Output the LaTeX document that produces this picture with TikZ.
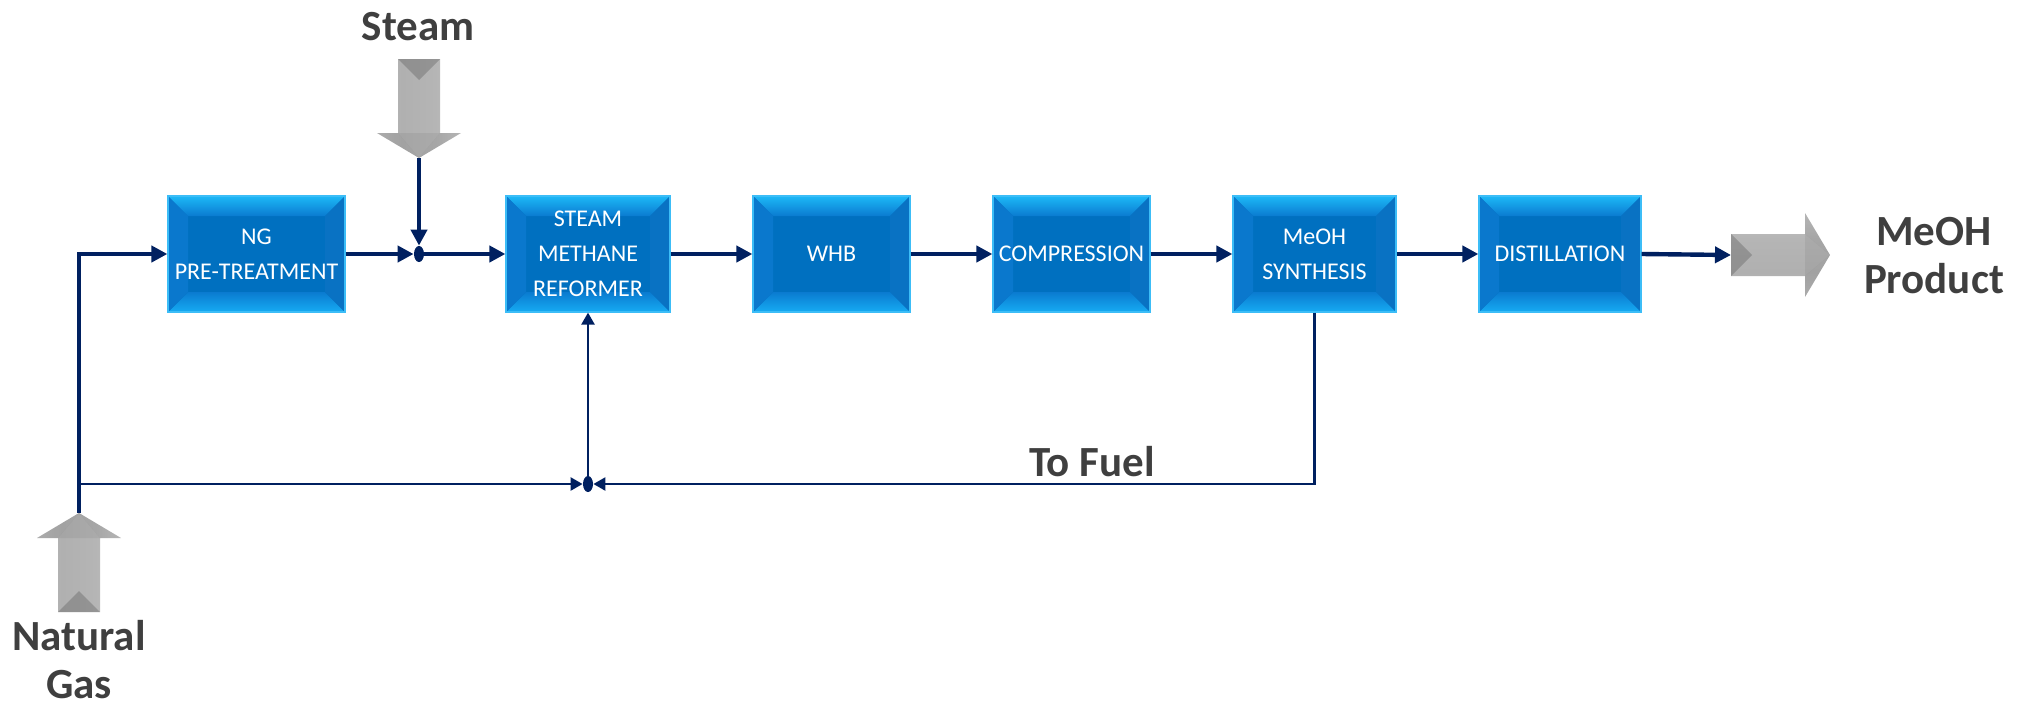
\documentclass[tikz,border=0pt]{standalone}
\usepackage{fontspec}
\setmainfont{Carlito}
\usetikzlibrary{arrows.meta,shapes.geometric,calc}
\definecolor{navy}{HTML}{002060}
\definecolor{lblgray}{HTML}{3F3F3F}
\definecolor{boxc}{HTML}{0070C0}
\definecolor{boxtop}{HTML}{1DB8F7}
\definecolor{boxmidb}{HTML}{0A7BD0}
\definecolor{boxbot}{HTML}{16ABF3}
\definecolor{boxside}{HTML}{0A78CD}
\definecolor{boxline}{HTML}{3CBDF7}
\pgfdeclarehorizontalshading{arrowshade}{100bp}{color(0bp)=(gray!40); color(40bp)=(gray!62); color(60bp)=(gray!58); color(100bp)=(gray!25)}
\newcommand{\grayarrow}[4]{%
  \begin{scope}[shift={(#1,#2)}, rotate=#3]
    \shade[shading=arrowshade, shading angle=#4] (-21,-99) -- (21,-99) -- (21,-25) -- (42,-25) -- (0,0) -- (-42,-25) -- (-21,-25) -- cycle;
    \fill[black, opacity=0.18] (-21,-99) -- (21,-99) -- (0,-78) -- cycle;
    \fill[black, opacity=0.08] (-42,-25) -- (-21,-25) -- (0,0) -- cycle;
    \fill[black, opacity=0.08] (42,-25) -- (21,-25) -- (0,0) -- cycle;
    \fill[black, opacity=0.06] (-21,-25) -- (21,-25) -- (0,0) -- cycle;
  \end{scope}}
\begin{document}
\begin{tikzpicture}[x=0.5pt,y=-0.5pt,
  procbox/.style={minimum height=58pt, inner sep=0pt, text=white,
    font=\fontsize{12}{17.5}\selectfont, align=center, draw=boxline, line width=0.6pt,
    path picture={
      \coordinate (bsw) at (path picture bounding box.south west);
      \coordinate (bne) at (path picture bounding box.north east);
      \coordinate (bnw) at (path picture bounding box.north west);
      \coordinate (bse) at (path picture bounding box.south east);
      \coordinate (isw) at ([shift={(10pt,10pt)}]bsw);
      \coordinate (ine) at ([shift={(-10pt,-10pt)}]bne);
      \coordinate (inw) at ([shift={(10pt,-10pt)}]bnw);
      \coordinate (ise) at ([shift={(-10pt,10pt)}]bse);
      \fill[boxc] (bsw) rectangle (bne);
      \shade[top color=boxtop, bottom color=boxmidb] (bnw) -- (bne) -- (ine) -- (inw) -- cycle;
      \shade[top color=boxmidb, bottom color=boxbot] (bsw) -- (bse) -- (ise) -- (isw) -- cycle;
      \fill[boxside] (bnw) -- (inw) -- (isw) -- (bsw) -- cycle;
      \fill[boxside!95!black] (bne) -- (ine) -- (ise) -- (bse) -- cycle;
    }},
  junc/.style={ellipse, fill=navy, minimum width=5pt, minimum height=8pt, inner sep=0pt},
  mainln/.style={draw=navy, line width=2.2pt, -{Triangle[length=8pt,width=8pt]}},
  thinln/.style={draw=navy, line width=1.2pt, -{Triangle[length=6pt,width=6.5pt]}},
  lbl/.style={font=\fontsize{21.5}{24}\selectfont\bfseries, text=lblgray, inner sep=0pt}
]
\useasboundingbox (0,0) rectangle (2026,707);

% gray block arrows
\grayarrow{419}{158}{0}{0}
\grayarrow{79}{513}{180}{0}
\grayarrow{1830}{255}{90}{90}

\coordinate (steamtip) at (419,158);
\coordinate (ngtip) at (79,513);
\coordinate (prodtail) at (1731,255);
\coordinate (fuelstart) at (79,484);

% process boxes
\node[procbox, minimum width=88.5pt] (ng) at (256.5,254) {NG\\PRE-TREATMENT};
\node[procbox, minimum width=82pt] (smr) at (588,254) {STEAM\\METHANE\\REFORMER};
\node[procbox, minimum width=78.5pt] (whb) at (831.5,254) {WHB};
\node[procbox, minimum width=78.5pt] (comp) at (1071.5,254) {COMPRESSION};
\node[procbox, minimum width=81.5pt] (meoh) at (1314.5,254) {MeOH\\SYNTHESIS};
\node[procbox, minimum width=81pt] (dist) at (1560,254) {DISTILLATION};

% junctions
\node[junc] (j1) at (419,254) {};
\node[junc] (j2) at (588,484) {};

% connectors
\draw[mainln] (ngtip) |- (ng.west);
\draw[mainln] (ng.east) -- (j1);
\draw[mainln] (steamtip) -- (j1);
\draw[mainln] (j1) -- (smr.west);
\draw[mainln] (smr.east) -- (whb.west);
\draw[mainln] (whb.east) -- (comp.west);
\draw[mainln] (comp.east) -- (meoh.west);
\draw[mainln] (meoh.east) -- (dist.west);
\draw[mainln] (dist.east) -- (prodtail);
\draw[thinln] (fuelstart) -- (j2);
\draw[thinln] (meoh.south) |- (j2);
\draw[thinln] (j2) -- (smr.south);

% labels
\node[lbl, anchor=base] (steamlbl) at (418,40) {Steam};
\node[lbl, anchor=base] (fuellbl) at (1092,476) {To Fuel};
\node[lbl, align=center, anchor=base] (nglbl) at (79,698) {Natural\\Gas};
\node[lbl, align=center, anchor=base] (prodlbl) at (1934,293) {MeOH\\Product};
\end{tikzpicture}
\end{document}
